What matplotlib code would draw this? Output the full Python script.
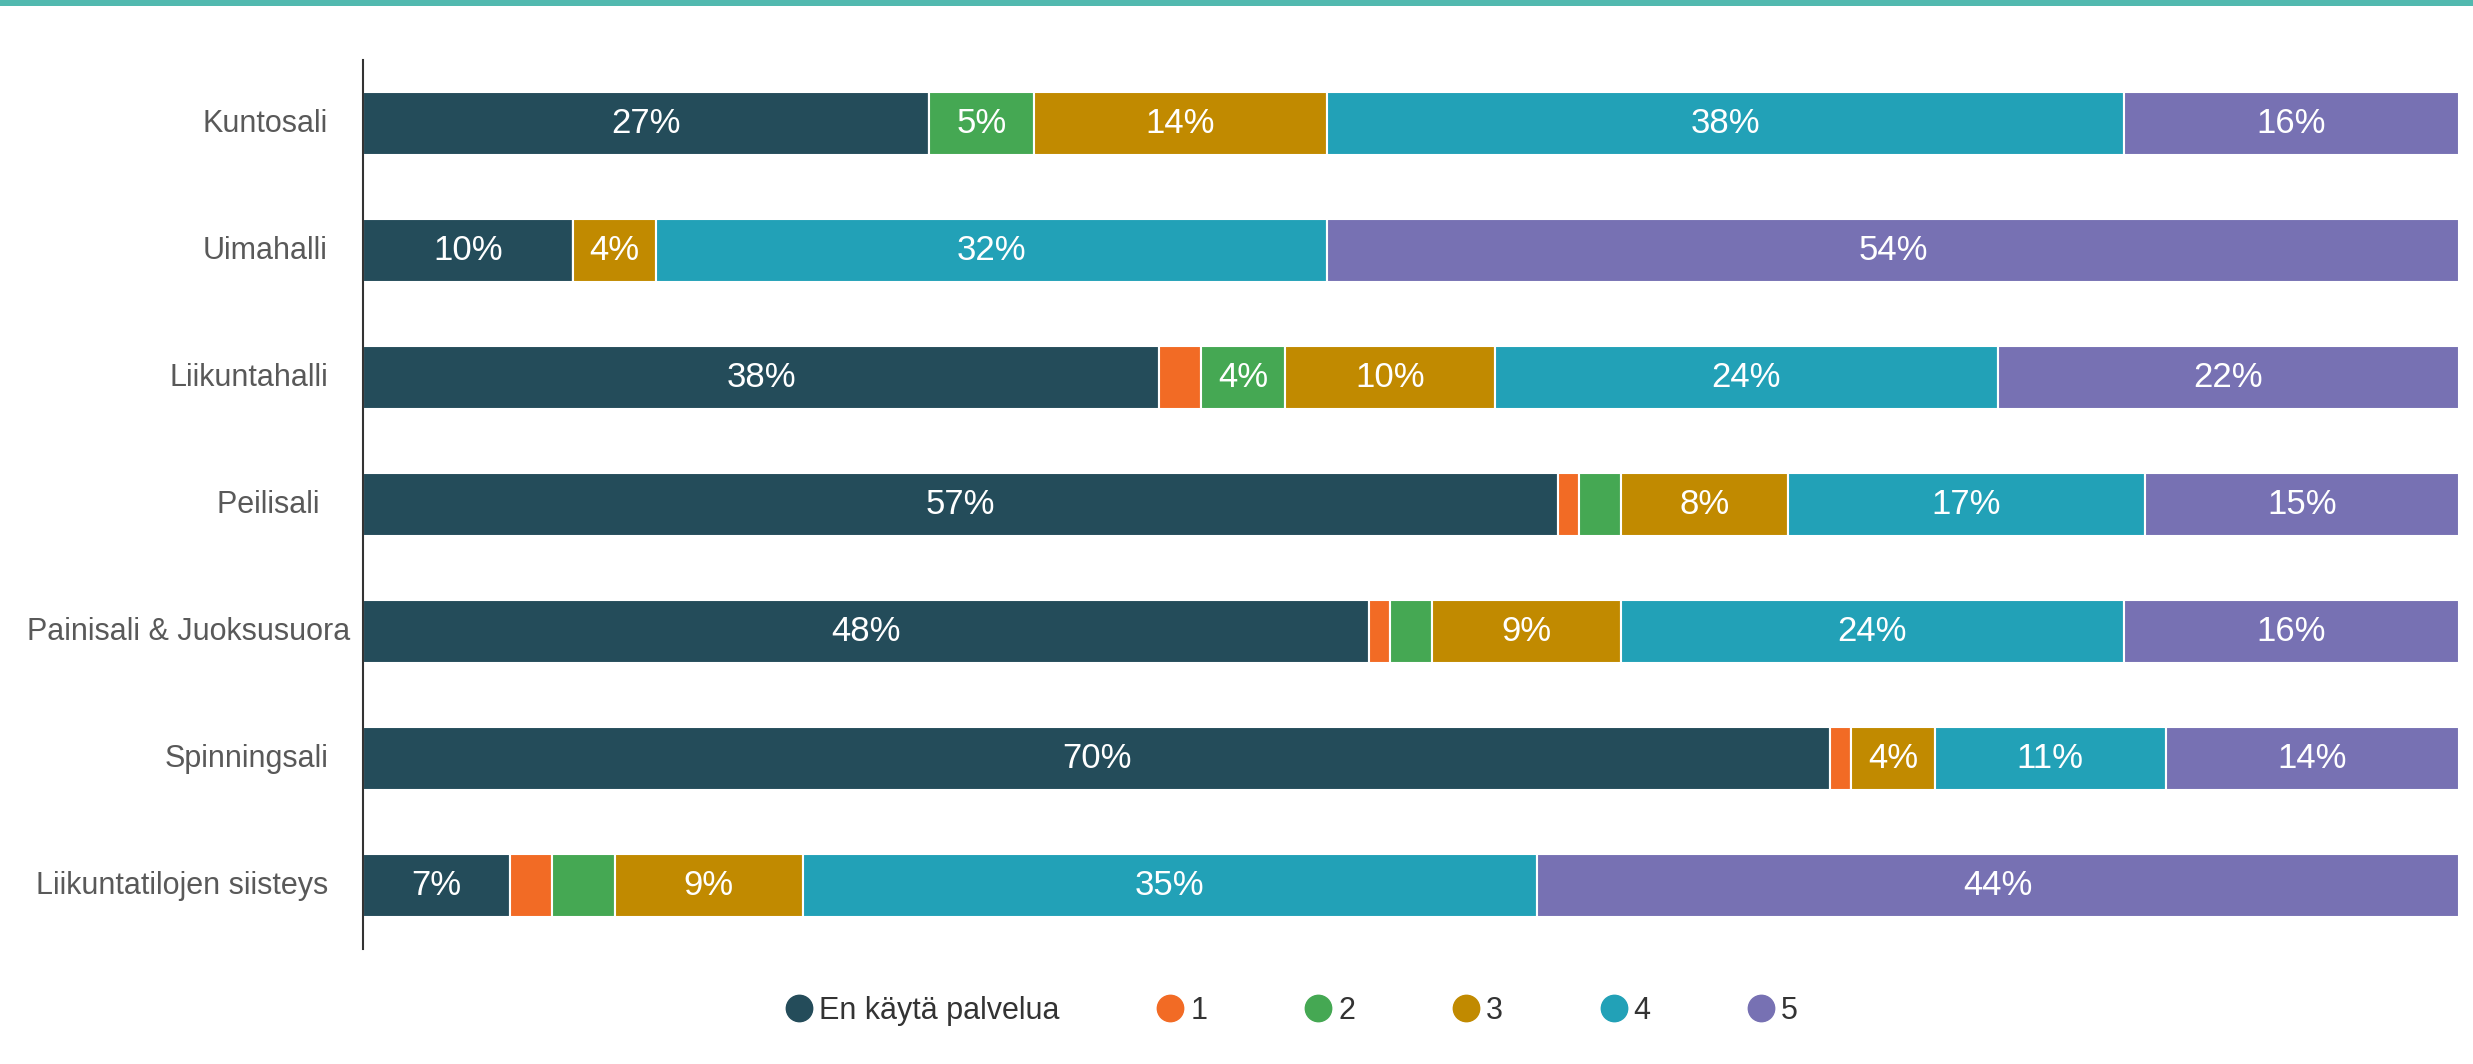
import matplotlib
matplotlib.use("Agg")
import matplotlib.pyplot as plt
from matplotlib.patches import Rectangle
from matplotlib.lines import Line2D
import numpy as np

categories = ["Kuntosali", "Uimahalli", "Liikuntahalli", "Peilisali ",
              "Painisali & Juoksusuora", "Spinningsali", "Liikuntatilojen siisteys"]
series_names = ["En käytä palvelua", "1", "2", "3", "4", "5"]
en_kayta = [27, 10, 38, 57, 48, 70, 7]
s1 = [0, 0, 2, 1, 1, 1, 2]
s2 = [5, 0, 4, 2, 2, 0, 3]
s3 = [14, 4, 10, 8, 9, 4, 9]
s4 = [38, 32, 24, 17, 24, 11, 35]
s5 = [16, 54, 22, 15, 16, 14, 44]
colors = ["#244C5A", "#F26B25", "#45A853", "#C18A00", "#22A1B7", "#7771B3"]

series = [en_kayta, s1, s2, s3, s4, s5]

W, H = 2473, 1064
fig = plt.figure(figsize=(W / 100, H / 100), dpi=100)
ax = fig.add_axes([363 / W, 1 - 949 / H, (2459 - 363) / W, (949 - 60) / H])

y = np.arange(len(categories))
left = np.zeros(len(categories))
for name, vals, col in zip(series_names, series, colors):
    vals = np.array(vals, dtype=float)
    ax.barh(y, vals, left=left, height=0.5, color=col,
            edgecolor="white", linewidth=1.5, label=name)
    for yi, (l, v) in enumerate(zip(left, vals)):
        if v >= 4:
            ax.text(l + v / 2, yi, f"{int(v)}%", ha="center", va="center",
                    color="white", fontsize=25, family="Liberation Sans")
    left += vals

ax.set_xlim(0, 100)
ax.set_ylim(6.5, -0.5)
ax.set_yticks([])
ax.set_xticks([])
for s in ["top", "right", "bottom"]:
    ax.spines[s].set_visible(False)
ax.spines["left"].set_color("#333333")
ax.spines["left"].set_linewidth(1.5)

# category labels
for yi, cat in enumerate(categories):
    xpos = -0.0062 if cat.startswith("Painisali") else -0.0167
    ax.text(xpos, yi, cat, transform=ax.get_yaxis_transform(),
            ha="right", va="center", fontsize=22, color="#595959",
            family="Liberation Sans")

# legend
handles = [Line2D([0], [0], marker="o", linestyle="none", markersize=19,
                  markerfacecolor=c, markeredgecolor=c) for c in colors]
leg = fig.legend(handles, series_names, loc="center",
                 bbox_to_anchor=(1291 / W, 1 - 1011 / H), ncol=6,
                 frameon=False, handletextpad=0.15, columnspacing=3.13,
                 handlelength=1.0,
                 prop={"family": "Liberation Sans", "size": 22})
for t in leg.get_texts():
    t.set_color("#333333")

# top accent line
fig.add_artist(Rectangle((0, 1 - 6 / H), 1, 6 / H, transform=fig.transFigure,
                         color="#52B9AF", linewidth=0))

fig.savefig("out.png", dpi=100, facecolor="white")
